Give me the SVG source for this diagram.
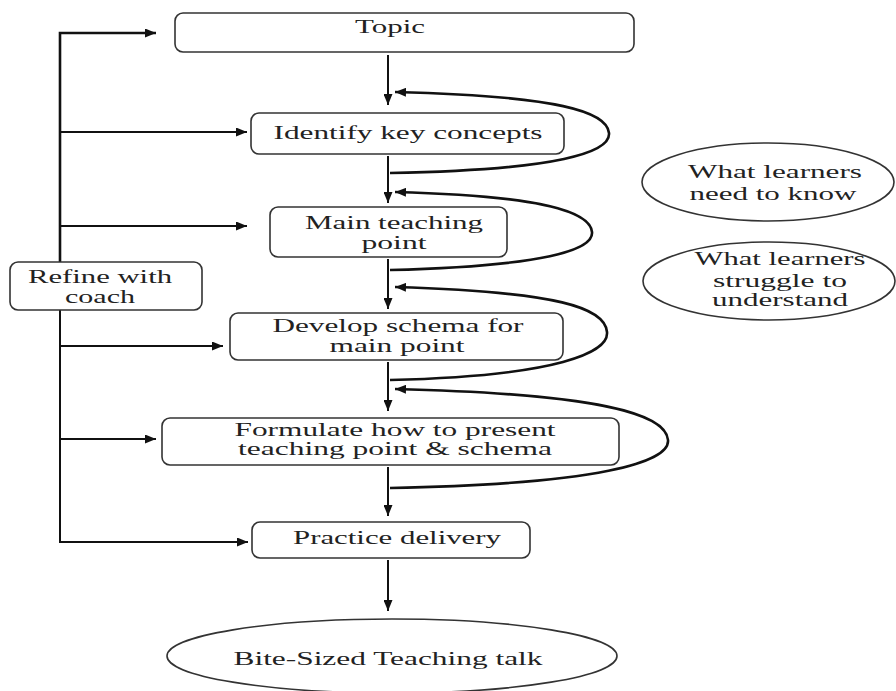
<svg xmlns="http://www.w3.org/2000/svg" width="896" height="691" viewBox="0 0 896 691">
<defs>
<marker id="ah" markerUnits="userSpaceOnUse" markerWidth="11" markerHeight="9" viewBox="0 0 11 9" refX="11" refY="4.5" orient="auto">
<path d="M0,0 L11,4.5 L0,9 Z" fill="#111"/>
</marker>
<style>
.box{fill:#fff;stroke:#333;stroke-width:1.6}
.t{font-family:"Liberation Serif","Times New Roman",serif;font-size:18px;fill:#222;text-anchor:middle}
.c{fill:none;stroke:#111;stroke-width:2}
.th{fill:none;stroke:#111;stroke-width:2.6}
</style>
</defs>
<rect width="896" height="691" fill="#fff"/>
<g id="connectors">
<!-- main downward arrows -->
<line class="c" x1="388" y1="55" x2="388" y2="105" marker-end="url(#ah)"/>
<line class="c" x1="388" y1="156" x2="388" y2="203" marker-end="url(#ah)"/>
<line class="c" x1="388" y1="259" x2="388" y2="309" marker-end="url(#ah)"/>
<line class="c" x1="388" y1="362" x2="388" y2="411" marker-end="url(#ah)"/>
<line class="c" x1="388" y1="467" x2="388" y2="516" marker-end="url(#ah)"/>
<line class="c" x1="388" y1="560" x2="388" y2="611" marker-end="url(#ah)"/>
<!-- left refine loop -->
<polyline class="th" points="156,33 60,33 60,262"/>
<line class="c" x1="60" y1="33" x2="156" y2="33" marker-end="url(#ah)"/>
<polyline class="c" points="60,310 60,542 248,542" marker-end="url(#ah)"/>
<line class="c" x1="61" y1="132" x2="247" y2="132" marker-end="url(#ah)"/>
<line class="c" x1="61" y1="226" x2="247" y2="226" marker-end="url(#ah)"/>
<line class="c" x1="60" y1="346" x2="223" y2="346" marker-end="url(#ah)"/>
<line class="c" x1="60" y1="439" x2="156" y2="439" marker-end="url(#ah)"/>
<!-- right feedback loops -->
<path class="th" d="M390,173 C560,170 611,152 609,133 C607,112 560,96 395,92" marker-end="url(#ah)"/>
<path class="th" d="M390,270 C545,266 594,250 592,232 C590,212 545,196 395,192" marker-end="url(#ah)"/>
<path class="th" d="M390,380 C560,376 609,352 607,332 C605,308 560,292 395,287" marker-end="url(#ah)"/>
<path class="th" d="M390,488 C600,484 670,462 668,440 C666,414 600,394 395,389" marker-end="url(#ah)"/>
</g>
<g id="topic">
<rect class="box" x="175" y="13" width="459" height="39" rx="8"/>
<text class="t" x="390" y="33" textLength="70" lengthAdjust="spacingAndGlyphs">Topic</text>
</g>
<g id="identify">
<rect class="box" x="251" y="113" width="313" height="41" rx="8"/>
<text class="t" x="408" y="139" textLength="269" lengthAdjust="spacingAndGlyphs">Identify key concepts</text>
</g>
<g id="main-point">
<rect class="box" x="270" y="207" width="237" height="50" rx="8"/>
<text class="t" x="394" y="229" textLength="178" lengthAdjust="spacingAndGlyphs">Main teaching</text>
<text class="t" x="394" y="249" textLength="65" lengthAdjust="spacingAndGlyphs">point</text>
</g>
<g id="refine">
<rect class="box" x="10" y="262" width="192" height="48" rx="8"/>
<text class="t" x="100" y="283" textLength="144" lengthAdjust="spacingAndGlyphs">Refine with</text>
<text class="t" x="100" y="303" textLength="70" lengthAdjust="spacingAndGlyphs">coach</text>
</g>
<g id="develop">
<rect class="box" x="230" y="313" width="333" height="47" rx="8"/>
<text class="t" x="398" y="332" textLength="251" lengthAdjust="spacingAndGlyphs">Develop schema for</text>
<text class="t" x="397" y="352" textLength="135" lengthAdjust="spacingAndGlyphs">main point</text>
</g>
<g id="formulate">
<rect class="box" x="162" y="418" width="457" height="47" rx="8"/>
<text class="t" x="395" y="436" textLength="321" lengthAdjust="spacingAndGlyphs">Formulate how to present</text>
<text class="t" x="395" y="455" textLength="314" lengthAdjust="spacingAndGlyphs">teaching point &amp; schema</text>
</g>
<g id="practice">
<rect class="box" x="252" y="522" width="278" height="36" rx="8"/>
<text class="t" x="397" y="544" textLength="208" lengthAdjust="spacingAndGlyphs">Practice delivery</text>
</g>
<g id="talk">
<ellipse class="box" cx="392" cy="656" rx="225" ry="37"/>
<text class="t" x="388" y="665" textLength="309" lengthAdjust="spacingAndGlyphs">Bite-Sized Teaching talk</text>
</g>
<g id="need-to-know">
<ellipse class="box" cx="768" cy="182" rx="126" ry="39"/>
<text class="t" x="775" y="178" textLength="174" lengthAdjust="spacingAndGlyphs">What learners</text>
<text class="t" x="773" y="200" textLength="167" lengthAdjust="spacingAndGlyphs">need to know</text>
</g>
<g id="struggle">
<ellipse class="box" cx="769" cy="281" rx="126" ry="39"/>
<text class="t" x="780" y="265" textLength="171" lengthAdjust="spacingAndGlyphs">What learners</text>
<text class="t" x="780" y="287" textLength="134" lengthAdjust="spacingAndGlyphs">struggle to</text>
<text class="t" x="780" y="306" textLength="136" lengthAdjust="spacingAndGlyphs">understand</text>
</g>
</svg>
